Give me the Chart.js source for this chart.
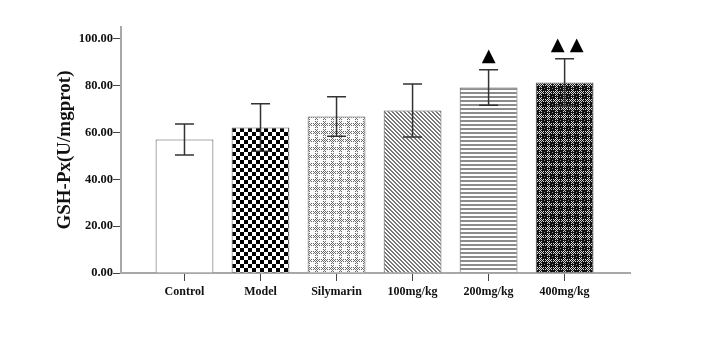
<!DOCTYPE html>
<html>
<head>
<meta charset="utf-8">
<script src="https://cdn.jsdelivr.net/npm/chart.js@4"></script>
<style>
  body { margin: 0; background: #fff; }
  #wrap { width: 703px; height: 351px; }
</style>
</head>
<body>
<div id="wrap"><canvas id="barChart"></canvas></div>
<script>
// DATA
let categories = ['Control', 'Model', 'Silymarin', '100mg/kg', '200mg/kg', '400mg/kg'];
let means = [57.0, 62.1, 66.8, 69.4, 79.2, 81.3];
let sds = [6.6, 10.1, 8.4, 11.3, 7.6, 10.1];
let marks = ['', '', '', '', '▲', '▲▲'];
let yTicks = [0, 20, 40, 60, 80, 100];

// fill patterns for each bar
function makePattern(kind) {
    let c = document.createElement('canvas');
    let g = c.getContext('2d');
    if (kind === 'white') {
        return '#ffffff';
    } else if (kind === 'checker') {
        c.width = 8; c.height = 8;
        g.fillStyle = '#fff'; g.fillRect(0, 0, 8, 8);
        g.fillStyle = '#000';
        g.fillRect(0, 0, 4, 4); g.fillRect(4, 4, 4, 4);
    } else if (kind === 'cross' || kind === 'dark') {
        // dotted plus shapes; light version for silymarin, inverted for 400
        c.width = 8; c.height = 8;
        let bg = kind === 'cross' ? '#fafafa' : '#121212';
        let dot = kind === 'cross' ? '#6a6a6a' : '#d8d8d8';
        g.fillStyle = bg; g.fillRect(0, 0, 8, 8);
        g.fillStyle = dot;
        for (let x = 0; x < 8; x++) {
            for (let y = 0; y < 8; y++) {
                let inPlus = (x >= 3 && x <= 5 && y >= 1 && y <= 7) || (y >= 3 && y <= 5 && x >= 1 && x <= 7);
                if (inPlus && (x + y) % 2 === 0) g.fillRect(x, y, 1, 1);
            }
        }
        if (kind === 'dark') {
            g.fillStyle = '#888';
            g.fillRect(0, 0, 1, 1);
        }
    } else if (kind === 'diag') {
        c.width = 4; c.height = 4;
        g.fillStyle = '#fff'; g.fillRect(0, 0, 4, 4);
        g.fillStyle = '#777';
        for (let i = 0; i < 4; i++) {
            g.fillRect(i, i, 1, 1);
            g.fillRect((i + 1) % 4, i, 1, 1);
        }
    } else if (kind === 'horiz') {
        c.width = 4; c.height = 4;
        g.fillStyle = '#fff'; g.fillRect(0, 0, 4, 4);
        g.fillStyle = '#8c8c8c'; g.fillRect(0, 0, 4, 2);
    }
    return g.createPattern(c, 'repeat');
}
let fills = ['white', 'checker', 'cross', 'diag', 'horiz', 'dark'].map(makePattern);

// error bars + significance triangles
let errorBars = {
    id: 'errorBars',
    afterDatasetsDraw(chart) {
        let ctx = chart.ctx;
        let xs = chart.scales.x, ys = chart.scales.y;
        ctx.save();
        ctx.strokeStyle = '#333';
        ctx.lineWidth = 1.5;
        for (let i = 0; i < categories.length; i++) {
            let x = xs.getPixelForValue(i);
            let top = ys.getPixelForValue(means[i] + sds[i]);
            let bot = ys.getPixelForValue(means[i] - sds[i]);
            ctx.beginPath();
            ctx.moveTo(x, top); ctx.lineTo(x, bot);
            ctx.moveTo(x - 9.5, top); ctx.lineTo(x + 9.5, top);
            ctx.moveTo(x - 9.5, bot); ctx.lineTo(x + 9.5, bot);
            ctx.stroke();
            let m = Array.from(marks[i]);
            if (m.length) {
                ctx.fillStyle = '#000';
                ctx.font = '18px "DejaVu Sans"';
                ctx.textAlign = 'center';
                ctx.textBaseline = 'alphabetic';
                let gap = 19;
                let start = x + 2.5 - (m.length - 1) * gap / 2;
                if (m.length === 1) start = x;
                m.forEach((ch, k) => ctx.fillText(ch, start + k * gap, top - 9));
            }
        }
        ctx.restore();
    }
};

let barCtx = document.getElementById('barChart').getContext('2d');
let barChart = new Chart(barCtx, {
    type: 'bar',
    data: {
        datasets: [{
            data: categories.map((c, i) => ({ x: i, y: means[i] })),
            backgroundColor: fills,
            borderColor: '#555',
            borderWidth: 1,
            barPercentage: 0.76,
            categoryPercentage: 1.0
        }]
    },
    options: {
        responsive: true,
        maintainAspectRatio: false,
        animation: false,
        layout: { padding: { top: 27, right: 73, left: 0, bottom: 0 } },
        plugins: { legend: { display: false }, tooltip: { enabled: false } },
        scales: {
            x: {
                type: 'linear',
                offset: false,
                min: -0.835,
                max: 5.86,
                afterBuildTicks: s => { s.ticks = categories.map((c, i) => ({ value: i })); },
                afterFit: s => { s.height = 78; },
                border: { color: '#a8a8a8', width: 2 },
                grid: { offset: false, drawOnChartArea: false, drawTicks: true, tickLength: 8, tickColor: '#444', lineWidth: 1 },
                ticks: {
                    autoSkip: false, maxRotation: 0, padding: 4,
                    color: '#111',
                    font: { family: '"Liberation Serif"', size: 12, weight: 'bold' },
                    callback: v => categories[v]
                }
            },
            y: {
                min: 0,
                max: 105,
                afterBuildTicks: s => { s.ticks = yTicks.map(v => ({ value: v })); },
                afterFit: s => { s.width = 121; },
                border: { color: '#a8a8a8', width: 2 },
                grid: { drawOnChartArea: false, drawTicks: true, tickLength: 8, tickColor: '#444', lineWidth: 1 },
                ticks: {
                    padding: 0,
                    color: '#111',
                    font: { family: '"Liberation Serif"', size: 12.5, weight: 'bold' },
                    callback: v => v.toFixed(2)
                },
                title: {
                    display: true,
                    text: 'GSH-Px(U/mgprot)',
                    color: '#111',
                    font: { family: '"Liberation Serif"', size: 19, weight: 'bold' },
                    padding: { top: 54, bottom: 0 }
                }
            }
        }
    },
    plugins: [errorBars]
});
</script>
</body>
</html>
